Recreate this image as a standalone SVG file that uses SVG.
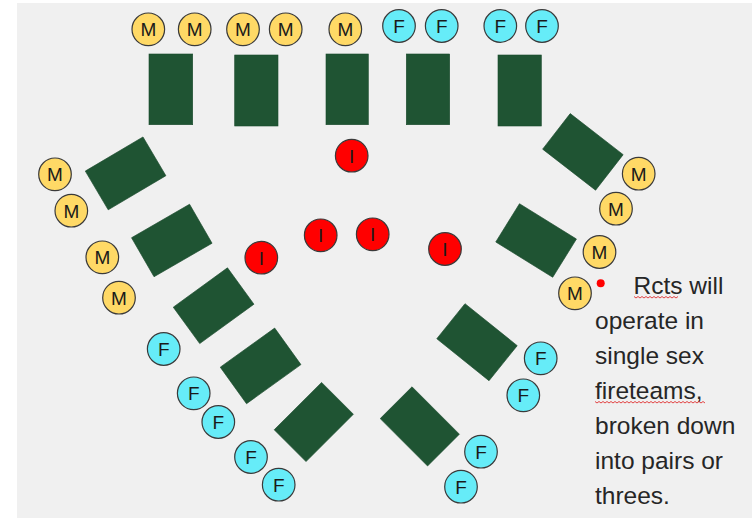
<svg xmlns="http://www.w3.org/2000/svg" width="752" height="518" viewBox="0 0 752 518">
<style>
.desk{fill:#1f5433;stroke:#1a4a2c;stroke-width:0.6}
.p{stroke:#3a3a3a;stroke-width:1.2}
.m{fill:#ffd966}
.f{fill:#66ecf8}
.i{fill:#ff0000}
.lbl{font-family:"Liberation Sans",Arial,sans-serif;font-size:19px;fill:#1a1a1a;text-anchor:middle}
.txt{font-family:"Liberation Sans",Arial,sans-serif;font-size:24.5px;fill:#262626}
.sq{fill:none;stroke:#e03030;stroke-width:0.9}
</style>
<defs>
<rect id="rd" class="desk" x="-33.5" y="-22.5" width="67" height="45"/>
</defs>
<rect x="0" y="0" width="752" height="518" fill="#ffffff"/>
<rect x="17" y="3" width="735" height="515" fill="#f0f0f0"/>
<g id="desks">
<g id="desk-t1"><rect class="desk" x="149" y="54" width="43.7" height="70.7"/></g>
<g id="desk-t2"><rect class="desk" x="234.7" y="55" width="43.3" height="71"/></g>
<g id="desk-t3"><rect class="desk" x="326" y="54" width="42.3" height="70.7"/></g>
<g id="desk-t4"><rect class="desk" x="406.3" y="54" width="43.4" height="70.7"/></g>
<g id="desk-t5"><rect class="desk" x="498" y="55" width="43.3" height="71"/></g>
<g id="desk-l1"><use href="#rd" transform="translate(125.6,173.4) rotate(-30.6)"/></g>
<g id="desk-l2"><use href="#rd" transform="translate(171.8,240.5) rotate(-30)"/></g>
<g id="desk-l3"><use href="#rd" transform="translate(213.6,305.7) rotate(-36)"/></g>
<g id="desk-l4"><use href="#rd" transform="translate(260.6,365.9) rotate(-35.7)"/></g>
<g id="desk-l5"><use href="#rd" transform="translate(313.8,422) rotate(-45)"/></g>
<g id="desk-r1"><use href="#rd" transform="translate(582.9,151.9) rotate(37.8)"/></g>
<g id="desk-r2"><use href="#rd" transform="translate(536.1,240.5) rotate(31.8)"/></g>
<g id="desk-r3"><use href="#rd" transform="translate(477,342.2) rotate(38.8)"/></g>
<g id="desk-r4"><use href="#rd" transform="translate(419.8,426.4) rotate(45)"/></g>
</g>
<g id="people">
<g id="m1"><circle class="p m" cx="148.3" cy="29.3" r="16.3"/><text class="lbl" x="148.3" y="36.1">M</text></g>
<g id="m2"><circle class="p m" cx="194.7" cy="29.3" r="16.3"/><text class="lbl" x="194.7" y="36.1">M</text></g>
<g id="m3"><circle class="p m" cx="243" cy="29.3" r="16.3"/><text class="lbl" x="243" y="36.1">M</text></g>
<g id="m4"><circle class="p m" cx="285.7" cy="29.3" r="16.3"/><text class="lbl" x="285.7" y="36.1">M</text></g>
<g id="m5"><circle class="p m" cx="345.3" cy="29.3" r="16.3"/><text class="lbl" x="345.3" y="36.1">M</text></g>
<g id="f1"><circle class="p f" cx="399" cy="26" r="16.3"/><text class="lbl" x="399" y="32.8">F</text></g>
<g id="f2"><circle class="p f" cx="441.7" cy="26" r="16.3"/><text class="lbl" x="441.7" y="32.8">F</text></g>
<g id="f3"><circle class="p f" cx="500.3" cy="26" r="16.3"/><text class="lbl" x="500.3" y="32.8">F</text></g>
<g id="f4"><circle class="p f" cx="542" cy="26" r="16.3"/><text class="lbl" x="542" y="32.8">F</text></g>
<g id="m6"><circle class="p m" cx="55" cy="174.3" r="16.3"/><text class="lbl" x="55" y="181.1">M</text></g>
<g id="m7"><circle class="p m" cx="71.3" cy="210.7" r="16.3"/><text class="lbl" x="71.3" y="217.5">M</text></g>
<g id="m8"><circle class="p m" cx="102.3" cy="257.3" r="16.3"/><text class="lbl" x="102.3" y="264.1">M</text></g>
<g id="m9"><circle class="p m" cx="119" cy="297.7" r="16.3"/><text class="lbl" x="119" y="304.5">M</text></g>
<g id="f5"><circle class="p f" cx="163.7" cy="349" r="16.3"/><text class="lbl" x="163.7" y="355.8">F</text></g>
<g id="f6"><circle class="p f" cx="193.7" cy="393.3" r="16.3"/><text class="lbl" x="193.7" y="400.1">F</text></g>
<g id="f7"><circle class="p f" cx="218.3" cy="422" r="16.3"/><text class="lbl" x="218.3" y="428.8">F</text></g>
<g id="f8"><circle class="p f" cx="251" cy="457" r="16.3"/><text class="lbl" x="251" y="463.8">F</text></g>
<g id="f9"><circle class="p f" cx="278.7" cy="484.7" r="16.3"/><text class="lbl" x="278.7" y="491.5">F</text></g>
<g id="m10"><circle class="p m" cx="638.7" cy="173.7" r="16.3"/><text class="lbl" x="638.7" y="180.5">M</text></g>
<g id="m11"><circle class="p m" cx="616" cy="208.7" r="16.3"/><text class="lbl" x="616" y="215.5">M</text></g>
<g id="m12"><circle class="p m" cx="599.5" cy="252" r="16.3"/><text class="lbl" x="599.5" y="258.8">M</text></g>
<g id="m13"><circle class="p m" cx="575" cy="293.3" r="16.3"/><text class="lbl" x="575" y="300.1">M</text></g>
<g id="f10"><circle class="p f" cx="540.7" cy="358.3" r="16.3"/><text class="lbl" x="540.7" y="365.1">F</text></g>
<g id="f11"><circle class="p f" cx="523.3" cy="395.3" r="16.3"/><text class="lbl" x="523.3" y="402.1">F</text></g>
<g id="f12"><circle class="p f" cx="481" cy="451.7" r="16.3"/><text class="lbl" x="481" y="458.5">F</text></g>
<g id="f13"><circle class="p f" cx="461" cy="486.7" r="16.3"/><text class="lbl" x="461" y="493.5">F</text></g>
<g id="i1"><circle class="p i" cx="351.7" cy="155.7" r="16.3"/><text class="lbl" x="351.7" y="162.5">I</text></g>
<g id="i2"><circle class="p i" cx="320.7" cy="235.3" r="16.3"/><text class="lbl" x="320.7" y="242.1">I</text></g>
<g id="i3"><circle class="p i" cx="372.7" cy="234.3" r="16.3"/><text class="lbl" x="372.7" y="241.1">I</text></g>
<g id="i4"><circle class="p i" cx="261.3" cy="257.7" r="16.3"/><text class="lbl" x="261.3" y="264.5">I</text></g>
<g id="i5"><circle class="p i" cx="445" cy="249" r="16.3"/><text class="lbl" x="445" y="255.8">I</text></g>
</g>
<g id="note">
<circle cx="600.7" cy="283.3" r="4" fill="#ff0000"/>
<text class="txt" x="633.5" y="293.5">Rcts will</text>
<text class="txt" x="595" y="328.5">operate in</text>
<text class="txt" x="595" y="363.5">single sex</text>
<text class="txt" x="595" y="398.5">fireteams,</text>
<text class="txt" x="595" y="433.5">broken down</text>
<text class="txt" x="595" y="468.5">into pairs or</text>
<text class="txt" x="595" y="503.5">threes.</text>
<path class="sq" d="M634 296.5 l2 1.5 l2 -1.5 l2 1.5 l2 -1.5 l2 1.5 l2 -1.5 l2 1.5 l2 -1.5 l2 1.5 l2 -1.5 l2 1.5 l2 -1.5 l2 1.5 l2 -1.5 l2 1.5 l2 -1.5 l2 1.5 l2 -1.5 l2 1.5 l2 -1.5 l2 1.5 l2 -1.5"/>
<path class="sq" d="M595 401.5 l2 1.5 l2 -1.5 l2 1.5 l2 -1.5 l2 1.5 l2 -1.5 l2 1.5 l2 -1.5 l2 1.5 l2 -1.5 l2 1.5 l2 -1.5 l2 1.5 l2 -1.5 l2 1.5 l2 -1.5 l2 1.5 l2 -1.5 l2 1.5 l2 -1.5 l2 1.5 l2 -1.5 l2 1.5 l2 -1.5 l2 1.5 l2 -1.5 l2 1.5 l2 -1.5 l2 1.5 l2 -1.5 l2 1.5 l2 -1.5 l2 1.5 l2 -1.5 l2 1.5 l2 -1.5 l2 1.5 l2 -1.5 l2 1.5 l2 -1.5 l2 1.5 l2 -1.5 l2 1.5 l2 -1.5 l2 1.5 l2 -1.5 l2 1.5 l2 -1.5 l2 1.5 l2 -1.5 l2 1.5 l2 -1.5 l2 1.5 l2 -1.5 l2 1.5"/>
</g>
</svg>
